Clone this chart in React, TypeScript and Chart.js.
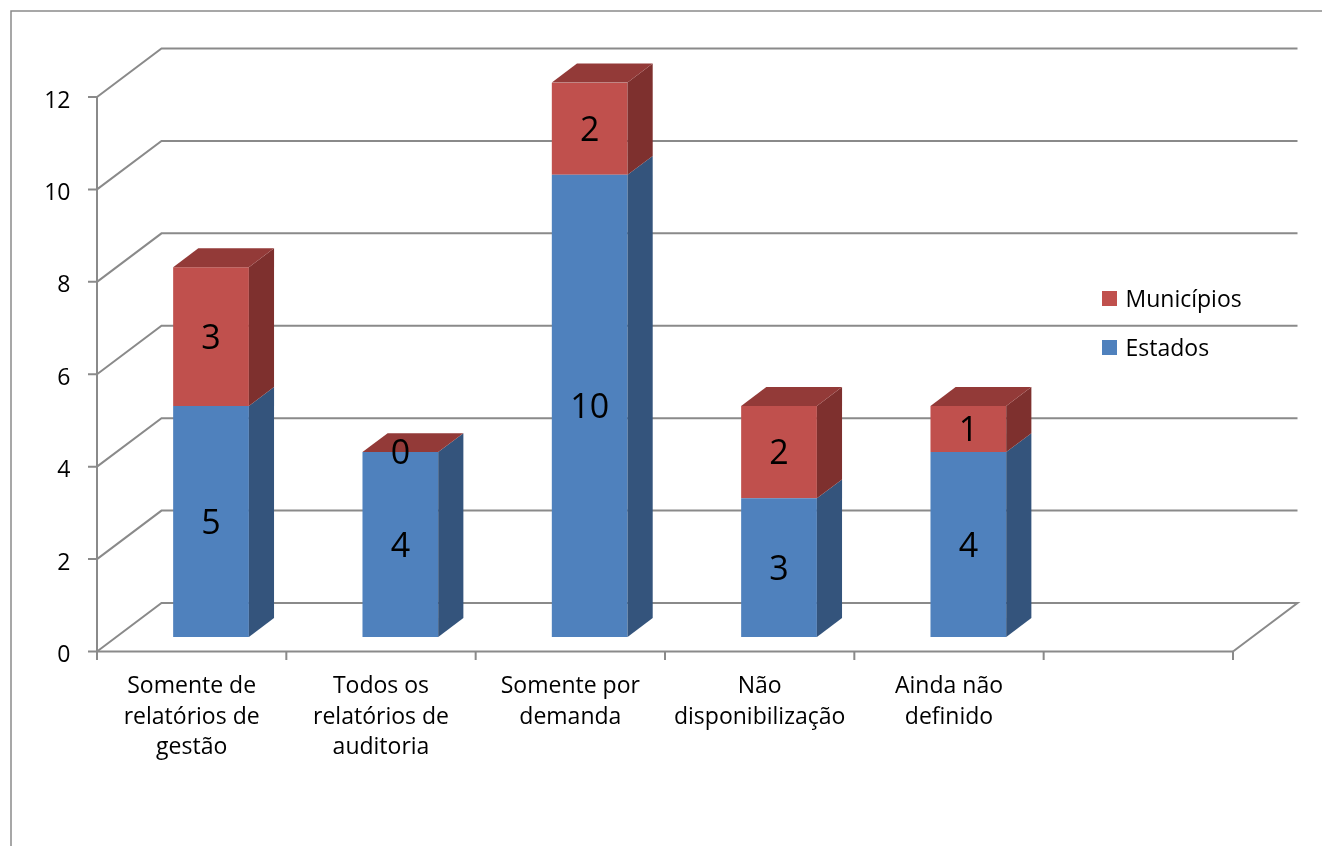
import React, { useEffect, useRef } from "react";
import { Chart, registerables } from "chart.js";

Chart.register(...registerables);

// ---- data ----
const categories: string[][] = [
  ["Somente de", "relatórios de", "gestão"],
  ["Todos os", "relatórios de", "auditoria"],
  ["Somente por", "demanda"],
  ["Não", "disponibilização"],
  ["Ainda não", "definido"],
  [""],
];
const estados: (number | null)[] = [5, 4, 10, 3, 4, null];
const municipios: (number | null)[] = [3, 0, 2, 2, 1, null];
const seriesNames = ["Estados", "Municípios"];
const yMin = 0;
const yMax = 12;
const yStep = 2;

// ---- look ----
const FONT_FAMILY = '"Open Sans", "DejaVu Sans", sans-serif';
const GRID_COLOR = "#8a8a8a";
const FRONT_COLORS = ["#4F81BD", "#C0504D"];
const SIDE_COLORS = ["#34547C", "#7E302E"];
const TOP_COLORS = ["#3F6898", "#933A38"];

const CANVAS_W = 1322;
const CANVAS_H = 846;

// Oblique depth of the plot box: front plane -> back wall
const DEPTH_X = 64.5;
const DEPTH_Y = -48.5;
// Bars sit between 30% and 69% of the box depth
const BAR_FRONT = 0.3;
const BAR_DEPTH = 0.39;
const OFF_X = DEPTH_X * BAR_FRONT;
const OFF_Y = DEPTH_Y * BAR_FRONT;

// Front plane of the box (axis lines)
const FRONT_LEFT = 97;
const FRONT_RIGHT = 1233;
const FRONT_TOP = 97;
const FRONT_BOTTOM = 651.5;

// The chart area is the bars' front plane
const PLOT_LEFT = FRONT_LEFT + OFF_X;
const PLOT_RIGHT = FRONT_RIGHT + OFF_X;
const PLOT_TOP = FRONT_TOP + OFF_Y;
const PLOT_BOTTOM = FRONT_BOTTOM + OFF_Y;

const AXIS_FONT_SIZE = 23;
const VALUE_FONT_SIZE = 34;

const frameAndWalls = {
  id: "frameAndWalls",
  beforeDraw(chart: any) {
    const { ctx } = chart;
    ctx.save();
    ctx.strokeStyle = GRID_COLOR;
    ctx.lineWidth = 1.5;
    ctx.beginPath();
    ctx.moveTo(11, CANVAS_H + 5);
    ctx.lineTo(11, 11);
    ctx.lineTo(CANVAS_W + 5, 11);
    ctx.stroke();
    ctx.restore();
  },
  beforeDatasetsDraw(chart: any) {
    const { ctx, chartArea, scales } = chart;
    const ys = scales.y;
    const fl = chartArea.left - OFF_X;
    const fr = chartArea.right - OFF_X;
    const fy = (v: number) => ys.getPixelForValue(v) - OFF_Y;
    const values: number[] = ys.ticks.map((t: any) => t.value);

    ctx.save();
    ctx.strokeStyle = GRID_COLOR;
    ctx.lineWidth = 2;
    ctx.lineJoin = "miter";

    // side wall diagonals + back wall gridlines
    values.forEach((v) => {
      const y = fy(v);
      ctx.beginPath();
      ctx.moveTo(fl, y);
      ctx.lineTo(fl + DEPTH_X, y + DEPTH_Y);
      ctx.lineTo(fr + DEPTH_X, y + DEPTH_Y);
      if (v === yMin) ctx.lineTo(fr, y);
      ctx.stroke();
    });

    // front axes
    ctx.beginPath();
    ctx.moveTo(fl, fy(yMax));
    ctx.lineTo(fl, fy(yMin));
    ctx.lineTo(fr, fy(yMin));
    ctx.stroke();

    // tick marks
    ctx.beginPath();
    values.forEach((v) => {
      ctx.moveTo(fl - 9, fy(v));
      ctx.lineTo(fl, fy(v));
    });
    const n = categories.length;
    for (let i = 0; i <= n; i++) {
      const x = fl + (i * (fr - fl)) / n;
      ctx.moveTo(x, fy(yMin));
      ctx.lineTo(x, fy(yMin) + 8.5);
    }
    ctx.stroke();
    ctx.restore();
  },
  afterDatasetsDraw(chart: any) {
    const { ctx } = chart;
    const bdx = DEPTH_X * BAR_DEPTH;
    const bdy = DEPTH_Y * BAR_DEPTH;
    const last = chart.data.datasets.length - 1;
    const boxes: { di: number; v: number; x: number; top: number; bottom: number }[] = [];

    ctx.save();
    chart.data.datasets.forEach((ds: any, di: number) => {
      const meta = chart.getDatasetMeta(di);
      meta.data.forEach((el: any, i: number) => {
        const v = ds.data[i];
        if (v == null) return;
        const { x, y, base, width } = el.getProps(["x", "y", "base", "width"], true);
        const left = x - width / 2;
        const right = x + width / 2;
        const top = Math.min(y, base);
        const bottom = Math.max(y, base);

        // right side face
        ctx.fillStyle = SIDE_COLORS[di];
        ctx.beginPath();
        ctx.moveTo(right, top);
        ctx.lineTo(right + bdx, top + bdy);
        ctx.lineTo(right + bdx, bottom + bdy);
        ctx.lineTo(right, bottom);
        ctx.closePath();
        ctx.fill();

        // top face of the stack
        if (di === last) {
          ctx.fillStyle = TOP_COLORS[di];
          ctx.beginPath();
          ctx.moveTo(left, top);
          ctx.lineTo(left + bdx, top + bdy);
          ctx.lineTo(right + bdx, top + bdy);
          ctx.lineTo(right, top);
          ctx.closePath();
          ctx.fill();
        }
        boxes.push({ di, v, x, top, bottom });
      });
    });

    // value labels
    ctx.fillStyle = "#000";
    ctx.font = `${VALUE_FONT_SIZE}px ${FONT_FAMILY}`;
    ctx.textAlign = "center";
    ctx.textBaseline = "alphabetic";
    boxes.forEach((b) => {
      const cy = (b.top + b.bottom) / 2;
      ctx.fillText(String(b.v), b.x, cy + 0.357 * VALUE_FONT_SIZE);
    });
    ctx.restore();
  },
  afterDraw(chart: any) {
    // legend, listed top-down in stack order (top series first)
    const { ctx } = chart;
    ctx.save();
    ctx.font = `${AXIS_FONT_SIZE}px ${FONT_FAMILY}`;
    ctx.textAlign = "left";
    ctx.textBaseline = "alphabetic";
    const order = chart.data.datasets.map((_: any, i: number) => i).reverse();
    order.forEach((di: number, row: number) => {
      const ds = chart.data.datasets[di];
      const top = 291 + row * 49;
      ctx.fillStyle = ds.backgroundColor;
      ctx.fillRect(1102, top, 15, 15);
      ctx.fillStyle = "#000";
      ctx.fillText(ds.label, 1125.5, top + 7.5 + 0.357 * AXIS_FONT_SIZE);
    });
    ctx.restore();
  },
};

export default function App() {
  const canvasRef = useRef<HTMLCanvasElement | null>(null);

  useEffect(() => {
    if (!canvasRef.current) return;
    const chart = new Chart(canvasRef.current, {
      type: "bar",
      data: {
        labels: categories,
        datasets: [
          {
            label: seriesNames[0],
            data: estados,
            backgroundColor: FRONT_COLORS[0],
            borderWidth: 0,
            barPercentage: 0.4,
            categoryPercentage: 1,
          },
          {
            label: seriesNames[1],
            data: municipios,
            backgroundColor: FRONT_COLORS[1],
            borderWidth: 0,
            barPercentage: 0.4,
            categoryPercentage: 1,
          },
        ],
      },
      options: {
        responsive: false,
        animation: false,
        devicePixelRatio: 1,
        layout: {
          padding: { top: PLOT_TOP, right: CANVAS_W - PLOT_RIGHT, left: 0, bottom: 0 },
        },
        plugins: {
          legend: { display: false },
          tooltip: { enabled: false },
        },
        scales: {
          x: {
            stacked: true,
            offset: true,
            grid: { display: false, drawTicks: false },
            border: { display: false },
            ticks: {
              autoSkip: false,
              maxRotation: 0,
              minRotation: 0,
              color: "#000",
              font: { family: FONT_FAMILY, size: AXIS_FONT_SIZE, lineHeight: 30.5 / AXIS_FONT_SIZE },
              padding: 34.5,
              labelOffset: -OFF_X,
            },
            afterFit: (s: any) => {
              s.height = CANVAS_H - PLOT_BOTTOM;
            },
          },
          y: {
            stacked: true,
            min: yMin,
            max: yMax,
            grid: { display: false, drawTicks: false },
            border: { display: false },
            ticks: {
              stepSize: yStep,
              color: "#000",
              font: { family: FONT_FAMILY, size: AXIS_FONT_SIZE },
              padding: PLOT_LEFT - 70.5,
              labelOffset: -OFF_Y + 4,
            },
            afterFit: (s: any) => {
              s.width = PLOT_LEFT;
            },
          },
        },
      },
      plugins: [frameAndWalls],
    });
    return () => chart.destroy();
  }, []);

  return (
    <div style={{ position: "absolute", left: 0, top: 0, width: CANVAS_W, height: CANVAS_H, background: "#fff" }}>
      <canvas ref={canvasRef} width={CANVAS_W} height={CANVAS_H} style={{ display: "block" }} />
    </div>
  );
}
